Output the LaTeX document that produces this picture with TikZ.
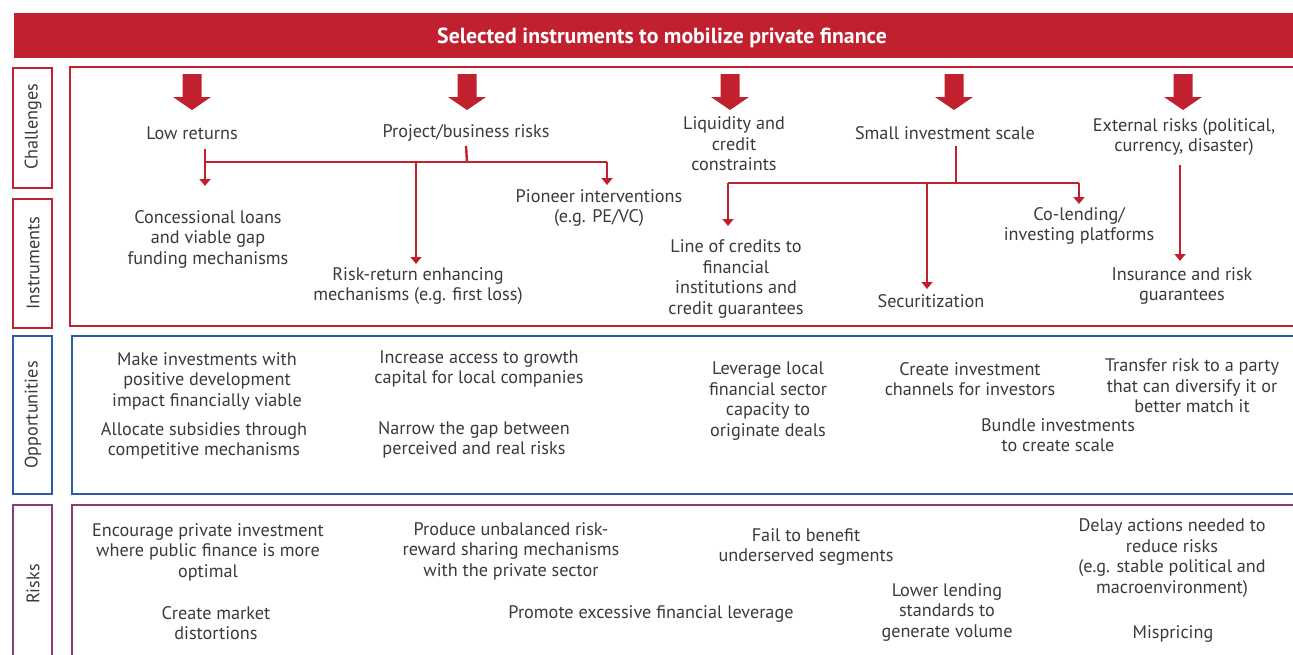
\documentclass[tikz,border=0pt]{standalone}
\usepackage{fontspec}
\setmainfont{PT Sans}
\usetikzlibrary{arrows.meta}
\definecolor{cred}{HTML}{C1202F}
\definecolor{cblue}{HTML}{2A5CAA}
\definecolor{cpurp}{HTML}{8A3B7E}
\definecolor{tgray}{HTML}{3A3A3A}
\begin{document}
\begin{tikzpicture}[x=1pt,y=-1pt,
  txt/.style={align=center, font=\fontsize{18.2}{20.5}\selectfont, text=tgray, inner sep=0pt},
  lbl/.style={txt, rotate=90},
  frame/.style={line width=2pt},
  conn/.style={draw=cred, line width=2.4pt, -{Triangle[length=7pt,width=11pt]}},
  link/.style={draw=cred, line width=2.4pt},
  bigarrow/.pic={\fill[cred] (-9.5,0) -- (9.5,0) -- (9.5,23) -- (19,23) -- (0,36) -- (-19,23) -- (-9.5,23) -- cycle;}
]
\useasboundingbox (0,0) rectangle (1293,654);
\clip (0,0) rectangle (1293,654);

% header
\fill[cred] (14,13) rectangle (1310,58);
\node[inner sep=0pt, text=white, font=\fontsize{21.8}{24}\selectfont\bfseries] (title) at (662,37.5) {Selected instruments to mobilize private finance};

% frames
\draw[cred, frame] (70,67) rectangle (1310,326);
\draw[cblue, frame] (72,336) rectangle (1310,494);
\draw[cpurp, frame] (72,505) rectangle (1310,680);
\draw[cred, frame] (13,68) rectangle (52,188);
\draw[cred, frame] (13,199) rectangle (52,328);
\draw[cblue, frame] (13,336) rectangle (52,494);
\draw[cpurp, frame] (13,505) rectangle (52,680);

% row labels
\node[lbl] (lch) at (33,127) {Challenges};
\node[lbl] (lin) at (33,263) {Instruments};
\node[lbl] (lop) at (33,415) {Opportunities};
\node[lbl] (lri) at (33,584) {Risks};

% big arrows
\pic at (192,74) {bigarrow};
\pic at (467,74) {bigarrow};
\pic at (730,74) {bigarrow};
\pic at (954,74) {bigarrow};
\pic at (1183,74) {bigarrow};

% challenges
\node[txt] (c1) at (192,133) {Low returns};
\node[txt] (c2) at (466,133) {Project/business risks};
\node[txt] (c3) at (734,144) {Liquidity and\\credit\\constraints};
\node[txt] (c4) at (945,133) {Small investment scale};
\node[txt] (c5) at (1184,137) {External risks (political,\\currency, disaster)};

% instruments
\node[txt] (i1) at (208,239) {Concessional loans\\and viable gap\\funding mechanisms};
\node[txt] (i2) at (418,286) {Risk-return enhancing\\mechanisms (e.g. first loss)};
\node[txt] (i3) at (599,208) {Pioneer interventions\\(e.g. PE/VC)};
\node[txt] (i4) at (736,279) {Line of credits to\\financial\\institutions and\\credit guarantees};
\node[txt] (i5) at (931,301) {Securitization};
\node[txt] (i6) at (1079,226) {Co-lending/\\investing platforms};
\node[txt] (i7) at (1182,286) {Insurance and risk\\guarantees};

% connectors, tree 1
\coordinate (a1s) at (205,149);
\coordinate (a1e) at (205,186);
\coordinate (j1) at (467,162);
\coordinate (j1l) at (205,162);
\coordinate (j1r) at (607,162);
\coordinate (a2s) at (416,162);
\coordinate (a2e) at (416,264);
\coordinate (a3e) at (607,185);
\draw[conn] (a1s) -- (a1e);
\draw[link] (c2.south |- 0,146) -- (j1);
\draw[link] (j1l) -- (j1r);
\draw[conn] (a2s) -- (a2e);
\draw[conn] (j1r) -- (a3e);

% connectors, tree 2
\coordinate (j2) at (956,183);
\coordinate (j2l) at (728,183);
\coordinate (j2r) at (1079,183);
\coordinate (b1e) at (728,226);
\coordinate (b2s) at (927,183);
\coordinate (b2e) at (927,289);
\coordinate (b3e) at (1079,204);
\coordinate (k2) at (956,146);
\draw[link] (k2) -- (j2);
\draw[link] (j2l) -- (j2r);
\draw[conn] (j2l) -- (b1e);
\draw[conn] (b2s) -- (b2e);
\draw[conn] (j2r) -- (b3e);

% external
\coordinate (e1s) at (1180,165);
\coordinate (e1e) at (1180,261);
\draw[conn] (e1s) -- (e1e);

% opportunities
\node[txt] (o1) at (207,381) {Make investments with\\positive development\\impact financially viable};
\node[txt] (o2) at (204,441) {Allocate subsidies through\\competitive mechanisms};
\node[txt] (o3) at (479,369) {Increase access to growth\\capital for local companies};
\node[txt] (o4) at (474,440) {Narrow the gap between\\perceived and real risks};
\node[txt] (o5) at (768,401) {Leverage local\\financial sector\\capacity to\\originate deals};
\node[txt] (o6) at (970,379) {Create investment\\channels for investors};
\node[txt] (o7) at (1058,435) {Bundle investments\\to create scale};
\node[txt] (o8) at (1192,386) {Transfer risk to a party\\that can diversify it or\\better match it};

% risks
\node[txt] (r1) at (208,552) {Encourage private investment\\where public finance is more\\optimal};
\node[txt] (r2) at (216,623) {Create market\\distortions};
\node[txt] (r3) at (511,551) {Produce unbalanced risk-\\reward sharing mechanisms\\with the private sector};
\node[txt] (r4) at (651,614) {Promote excessive financial leverage};
\node[txt] (r5) at (806,547) {Fail to benefit\\underserved segments};
\node[txt] (r6) at (947,612) {Lower lending\\standards to\\generate volume};
\node[txt] (r7) at (1172,558) {Delay actions needed to\\reduce risks\\(e.g. stable political and\\macroenvironment)};
\node[txt] (r8) at (1173,634) {Mispricing};
\end{tikzpicture}
\end{document}
